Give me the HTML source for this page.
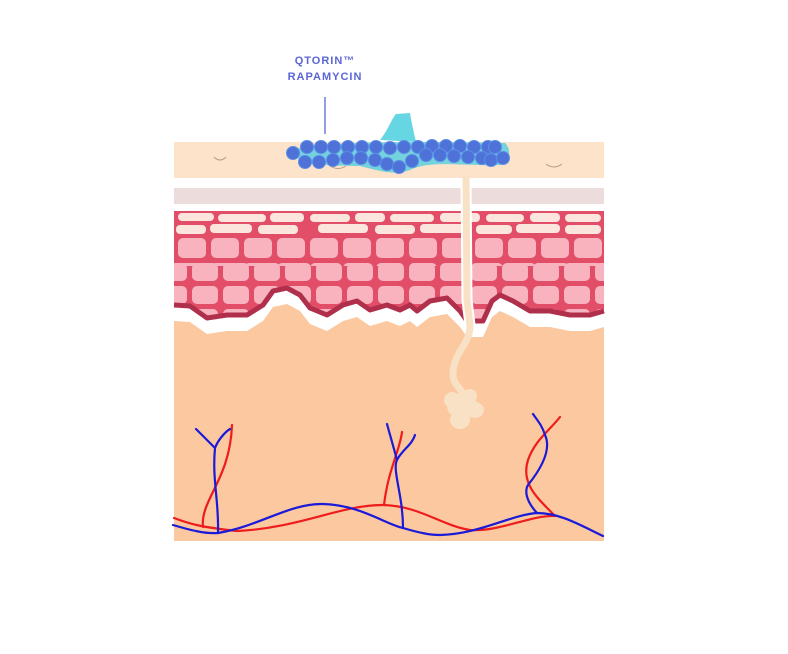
<!DOCTYPE html>
<html><head><style>
html,body{margin:0;padding:0;background:#fff;width:788px;height:654px;overflow:hidden}
svg{display:block}
</style></head><body>
<svg width="788" height="654" viewBox="0 0 788 654" xmlns="http://www.w3.org/2000/svg">
<defs>
<pattern id="cells" x="176" y="236" width="33" height="25" patternUnits="userSpaceOnUse">
<rect x="2" y="2" width="28" height="20" rx="5" fill="#f8b3bf"/>
</pattern>
<pattern id="cells2" x="190" y="261" width="31" height="23" patternUnits="userSpaceOnUse">
<rect x="2" y="2" width="26" height="18" rx="5" fill="#f8b3bf"/>
</pattern>
<clipPath id="epi">
<path d="M174,211 H604 V313 L590,317 L570,317 L550,313 L530,313 L513,303 L500,297 L492,303 L483,323 L467,323 L460,313 L447,300 L430,303 L417,313 L410,307 L400,312 L387,307 L370,312 L357,303 L343,307 L327,317 L310,310 L300,297 L287,290 L273,293 L263,307 L247,317 L227,317 L207,320 L190,308 L174,307 Z"/>
</clipPath>
</defs>
<rect x="174" y="142" width="430" height="36" fill="#fde3c9"/>
<path d="M214,157 q6,6 12,0" stroke="#b59a80" fill="none" stroke-width="1"/>
<path d="M546,164 q8,6 16,0" stroke="#b59a80" fill="none" stroke-width="1"/>
<path d="M330,166 q8,5 16,0" stroke="#b59a80" fill="none" stroke-width="1"/>
<rect x="174" y="188" width="430" height="16" fill="#ecdcdc"/>
<path d="M174,321 L190,322 L207,334 L227,331 L247,331 L263,321 L273,307 L287,304 L300,311 L310,324 L327,331 L343,321 L357,317 L370,326 L387,321 L400,326 L410,321 L417,327 L430,317 L447,314 L460,327 L467,337 L483,337 L492,317 L500,311 L513,317 L530,327 L550,327 L570,331 L590,331 L604,327 V541 H174 Z" fill="#fbc8a0"/>
<g clip-path="url(#epi)">
<rect x="174" y="211" width="430" height="130" fill="#e24e68"/>
<rect x="174" y="236" width="430" height="30" fill="url(#cells)"/>
<rect x="174" y="261" width="430" height="70" fill="url(#cells2)"/>
<g fill="#fbe5dc">
<rect x="178" y="213" width="36" height="8" rx="4"/><rect x="218" y="214" width="48" height="8" rx="4"/><rect x="270" y="213" width="34" height="9" rx="4"/><rect x="310" y="214" width="40" height="8" rx="4"/><rect x="355" y="213" width="30" height="9" rx="4"/><rect x="390" y="214" width="44" height="8" rx="4"/><rect x="440" y="213" width="40" height="9" rx="4"/><rect x="486" y="214" width="38" height="8" rx="4"/><rect x="530" y="213" width="30" height="9" rx="4"/><rect x="565" y="214" width="36" height="8" rx="4"/>
<rect x="176" y="225" width="30" height="9" rx="4"/><rect x="210" y="224" width="42" height="9" rx="4"/><rect x="258" y="225" width="40" height="9" rx="4"/><rect x="318" y="224" width="50" height="9" rx="4"/><rect x="375" y="225" width="40" height="9" rx="4"/><rect x="420" y="224" width="44" height="9" rx="4"/><rect x="476" y="225" width="36" height="9" rx="4"/><rect x="516" y="224" width="44" height="9" rx="4"/><rect x="565" y="225" width="36" height="9" rx="4"/>
</g>
</g>
<path d="M174,305 L190,306 L207,318 L227,315 L247,315 L263,305 L273,291 L287,288 L300,295 L310,308 L327,315 L343,305 L357,301 L370,310 L387,305 L400,310 L410,305 L417,311 L430,301 L447,298 L460,311 L467,321 L483,321 L492,301 L500,295 L513,301 L530,311 L550,311 L570,315 L590,315 L604,311" stroke="#b0304c" stroke-width="5" fill="none" stroke-linejoin="round"/>
<path d="M466,178 L467,300 L470,325" stroke="#fff" stroke-width="11" fill="none"/>
<path d="M466,178 L467,300 L470,325 C470,345 455,350 453,372 C452,385 462,388 463,395" stroke="#f9e1c6" stroke-width="7" fill="none" stroke-linecap="round"/>
<g fill="#f9e1c6">
<ellipse cx="462" cy="406" rx="15" ry="13"/><ellipse cx="452" cy="400" rx="8" ry="8"/><ellipse cx="475" cy="410" rx="9" ry="8"/><ellipse cx="460" cy="420" rx="10" ry="9"/><ellipse cx="470" cy="396" rx="7" ry="7"/>
</g>
<g fill="none" stroke-width="2.2" stroke-linecap="round">
<path d="M174,518 C190,524 200,527 237,531 C300,528 340,505 383,505 C420,506 440,525 470,530 C500,532 530,515 555,516" stroke="#ee1c1c"/>
<path d="M203,527 C200,500 230,480 232,425" stroke="#ee1c1c"/>
<path d="M384,505 C388,470 400,450 402,432" stroke="#ee1c1c"/>
<path d="M555,516 C540,500 520,485 528,460 C535,440 550,430 560,417" stroke="#ee1c1c"/>
<path d="M173,525 C190,530 205,534 218,533 C260,526 290,503 323,504 C360,505 385,524 403,528 C420,533 430,535 440,535 C480,534 510,515 537,513 C560,513 580,525 603,536" stroke="#1a1ad8"/>
<path d="M218,533 C219,500 212,480 215,448 M215,448 L196,429 M215,448 C218,440 225,432 230,429" stroke="#1a1ad8"/>
<path d="M403,528 C403,495 392,470 397,460 C393,445 390,435 387,424 M397,460 C402,450 412,445 415,435" stroke="#1a1ad8"/>
<path d="M537,513 C525,500 525,490 528,485 C540,470 552,450 545,435 C542,425 537,420 533,414" stroke="#1a1ad8"/>
</g>
<path d="M380,140 C388,130 392,118 396,114 L410,113 C412,125 414,133 416,142 Z" fill="#67d6e3"/>
<path d="M290,152 C300,141 420,141 505,143 C512,150 510,160 500,165 C460,166 430,160 410,170 C395,176 375,170 360,166 C330,166 300,165 290,152 Z" fill="#5ccfe0" opacity="0.85"/>
<text x="325" y="64" text-anchor="middle" font-family="Liberation Sans, sans-serif" font-weight="bold" font-size="11" letter-spacing="1" fill="#5b66d6">QTORIN™</text>
<text x="325" y="80" text-anchor="middle" font-family="Liberation Sans, sans-serif" font-weight="bold" font-size="11" letter-spacing="1" fill="#5b66d6">RAPAMYCIN</text>
<line x1="325" y1="97" x2="325" y2="134" stroke="#5b66d6" stroke-width="1.3"/>
<g fill="#4f72d8" stroke="#5a8ee6" stroke-width="1">
<circle cx="293" cy="153" r="6.5"/>
<circle cx="307" cy="147" r="6.5"/><circle cx="321" cy="147" r="6.5"/><circle cx="334" cy="147" r="6.5"/><circle cx="348" cy="147" r="6.5"/><circle cx="362" cy="147" r="6.5"/><circle cx="376" cy="147" r="6.5"/><circle cx="390" cy="148" r="6.5"/><circle cx="404" cy="147" r="6.5"/><circle cx="418" cy="147" r="6.5"/><circle cx="432" cy="146" r="6.5"/><circle cx="446" cy="146" r="6.5"/><circle cx="460" cy="146" r="6.5"/><circle cx="474" cy="147" r="6.5"/><circle cx="488" cy="147" r="6.5"/><circle cx="495" cy="147" r="6.5"/>
<circle cx="305" cy="162" r="6.5"/><circle cx="319" cy="162" r="6.5"/><circle cx="333" cy="160" r="6.5"/><circle cx="347" cy="158" r="6.5"/><circle cx="361" cy="158" r="6.5"/><circle cx="375" cy="160" r="6.5"/><circle cx="387" cy="164" r="6.5"/><circle cx="399" cy="167" r="6.5"/><circle cx="412" cy="161" r="6.5"/><circle cx="426" cy="155" r="6.5"/><circle cx="440" cy="155" r="6.5"/><circle cx="454" cy="156" r="6.5"/><circle cx="468" cy="157" r="6.5"/><circle cx="482" cy="158" r="6.5"/><circle cx="491" cy="160" r="6.5"/><circle cx="503" cy="158" r="6.5"/>
</g>
</svg>
</body></html>
